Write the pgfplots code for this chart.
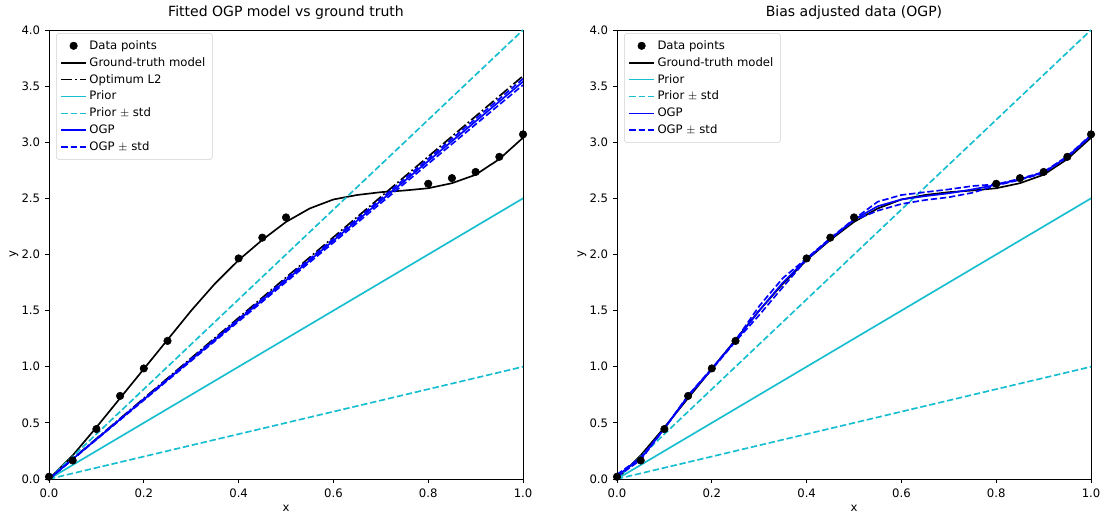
\documentclass[border=0pt]{standalone}
\usepackage{fontspec}
\setmainfont{DejaVu Sans}
\usepackage{pgfplots}
\pgfplotsset{compat=1.18}
\definecolor{tabcyan}{HTML}{17BECF}
\begin{document}
\begin{tikzpicture}
\useasboundingbox (0pt,0pt) rectangle (793.44pt,368.64pt);
\pgfplotsset{
 mpl/.style={
  width=341.3pt, height=323.3pt, scale only axis,
  xmin=0,xmax=1,ymin=0,ymax=4,
  xtick={0,0.2,0.4,0.6,0.8,1.0}, ytick={0,0.5,1,1.5,2,2.5,3,3.5,4},
  tick align=outside, tick pos=left,
  major tick length=2.9pt,
  every tick/.style={black, line width=0.67pt},
  axis line style={line width=0.67pt},
  ticklabel style={font=\fontsize{8.4}{10}\selectfont},
  xticklabel style={yshift=-0.5pt},
  /pgf/number format/fixed, /pgf/number format/fixed zerofill, /pgf/number format/precision=1, /pgf/number format/assume math mode=true,
  xlabel={x}, ylabel={y},
  label style={font=\fontsize{8.4}{10}\selectfont},
  xlabel style={yshift=1.5pt},
  ylabel style={yshift=-4.5pt},
  title style={font=\fontsize{10.1}{12}\selectfont, yshift=-2pt},
  legend style={at={(0.015,0.993)}, anchor=north west, draw=black!18, rounded corners=2pt,
     font=\fontsize{8.4}{10}\selectfont, row sep=0.3pt, inner xsep=3pt, inner ysep=3pt,
     column 2/.style={text width=86pt, align=left}},
  legend cell align=left,
  legend image code/.code={\draw[mark repeat=2,mark phase=2] plot coordinates {(0cm,0cm) (0.31cm,0cm) (0.62cm,0cm)};},
 },
 gtline/.style={black, line width=1.2pt, solid},
 cyl/.style={tabcyan, line width=1.2pt, solid},
 cyd/.style={tabcyan, line width=1.2pt, dash pattern=on 4.6pt off 2pt},
 bll/.style={blue, line width=1.2pt, solid},
 bld/.style={blue, line width=1.2pt, dash pattern=on 4.6pt off 2pt},
}
\begin{axis}[mpl, at={(35.28pt,23.76pt)}, anchor=south west, title={Fitted OGP model vs ground truth}]
\addplot[only marks, mark=*, mark size=2.7pt, black] coordinates {(0,0.02)(0.05,0.165)(0.1,0.445)(0.15,0.74)(0.2,0.985)(0.25,1.23)(0.4,1.965)(0.45,2.15)(0.5,2.33)(0.8,2.63)(0.85,2.68)(0.9,2.735)(0.95,2.87)(1.0,3.07)};
\addlegendentry{Data points}
\addplot[gtline] coordinates {(0,0)(0.05,0.21)(0.1,0.46)(0.15,0.72)(0.2,0.98)(0.25,1.24)(0.3,1.50)(0.35,1.74)(0.4,1.95)(0.45,2.13)(0.5,2.29)(0.55,2.41)(0.6,2.49)(0.65,2.53)(0.7,2.555)(0.75,2.57)(0.8,2.59)(0.85,2.635)(0.9,2.71)(0.95,2.85)(1.0,3.04)};
\addlegendentry{Ground-truth model}
\addplot[black, line width=1.2pt, dash pattern=on 8pt off 2pt on 1.3pt off 2pt] coordinates {(0,0)(1,3.59)};
\addlegendentry{Optimum L2}
\addplot[cyl] coordinates {(0,0)(1,2.5)};
\addlegendentry{Prior}
\addplot[cyd] coordinates {(0,0)(1,4.0)};
\addlegendentry{Prior $\pm$ std}
\addplot[cyd, forget plot] coordinates {(0,0)(1,1.0)};
\addplot[bll] coordinates {(0,0)(1,3.54)};
\addlegendentry{OGP}
\addplot[bld] coordinates {(0,0)(1,3.565)};
\addlegendentry{OGP $\pm$ std}
\addplot[bld, forget plot] coordinates {(0,0)(1,3.51)};
\end{axis}
\begin{axis}[mpl, at={(444.24pt,23.76pt)}, anchor=south west, title={Bias adjusted data (OGP)}]
\addplot[only marks, mark=*, mark size=2.7pt, black] coordinates {(0,0.02)(0.05,0.165)(0.1,0.445)(0.15,0.74)(0.2,0.985)(0.25,1.23)(0.4,1.965)(0.45,2.15)(0.5,2.33)(0.8,2.63)(0.85,2.68)(0.9,2.735)(0.95,2.87)(1.0,3.07)};
\addlegendentry{Data points}
\addplot[gtline] coordinates {(0,0)(0.05,0.21)(0.1,0.46)(0.15,0.72)(0.2,0.98)(0.25,1.24)(0.3,1.50)(0.35,1.74)(0.4,1.95)(0.45,2.13)(0.5,2.29)(0.55,2.41)(0.6,2.49)(0.65,2.53)(0.7,2.555)(0.75,2.57)(0.8,2.59)(0.85,2.635)(0.9,2.71)(0.95,2.85)(1.0,3.04)};
\addlegendentry{Ground-truth model}
\addplot[cyl] coordinates {(0,0)(1,2.5)};
\addlegendentry{Prior}
\addplot[cyd] coordinates {(0,0)(1,4.0)};
\addlegendentry{Prior $\pm$ std}
\addplot[cyd, forget plot] coordinates {(0,0)(1,1.0)};
\addplot[bll] coordinates {(0,0.03)(0.05,0.18)(0.1,0.45)(0.15,0.74)(0.2,0.98)(0.25,1.23)(0.3,1.50)(0.35,1.75)(0.4,1.96)(0.45,2.14)(0.5,2.31)(0.55,2.43)(0.6,2.49)(0.65,2.52)(0.7,2.545)(0.75,2.58)(0.8,2.62)(0.85,2.67)(0.9,2.73)(0.95,2.87)(1.0,3.06)};
\addlegendentry{OGP}
\addplot[bld] coordinates {(0,0.04)(0.05,0.19)(0.1,0.45)(0.15,0.745)(0.2,0.985)(0.25,1.235)(0.3,1.54)(0.35,1.79)(0.4,1.965)(0.45,2.145)(0.5,2.315)(0.55,2.47)(0.6,2.53)(0.65,2.555)(0.7,2.58)(0.75,2.61)(0.8,2.625)(0.85,2.675)(0.9,2.735)(0.95,2.875)(1.0,3.065)};
\addlegendentry{OGP $\pm$ std}
\addplot[bld, forget plot] coordinates {(0,0.02)(0.05,0.17)(0.1,0.45)(0.15,0.735)(0.2,0.975)(0.25,1.225)(0.3,1.46)(0.35,1.71)(0.4,1.955)(0.45,2.135)(0.5,2.305)(0.55,2.39)(0.6,2.45)(0.65,2.485)(0.7,2.51)(0.75,2.55)(0.8,2.615)(0.85,2.665)(0.9,2.725)(0.95,2.865)(1.0,3.055)};
\end{axis}
\end{tikzpicture}
\end{document}
